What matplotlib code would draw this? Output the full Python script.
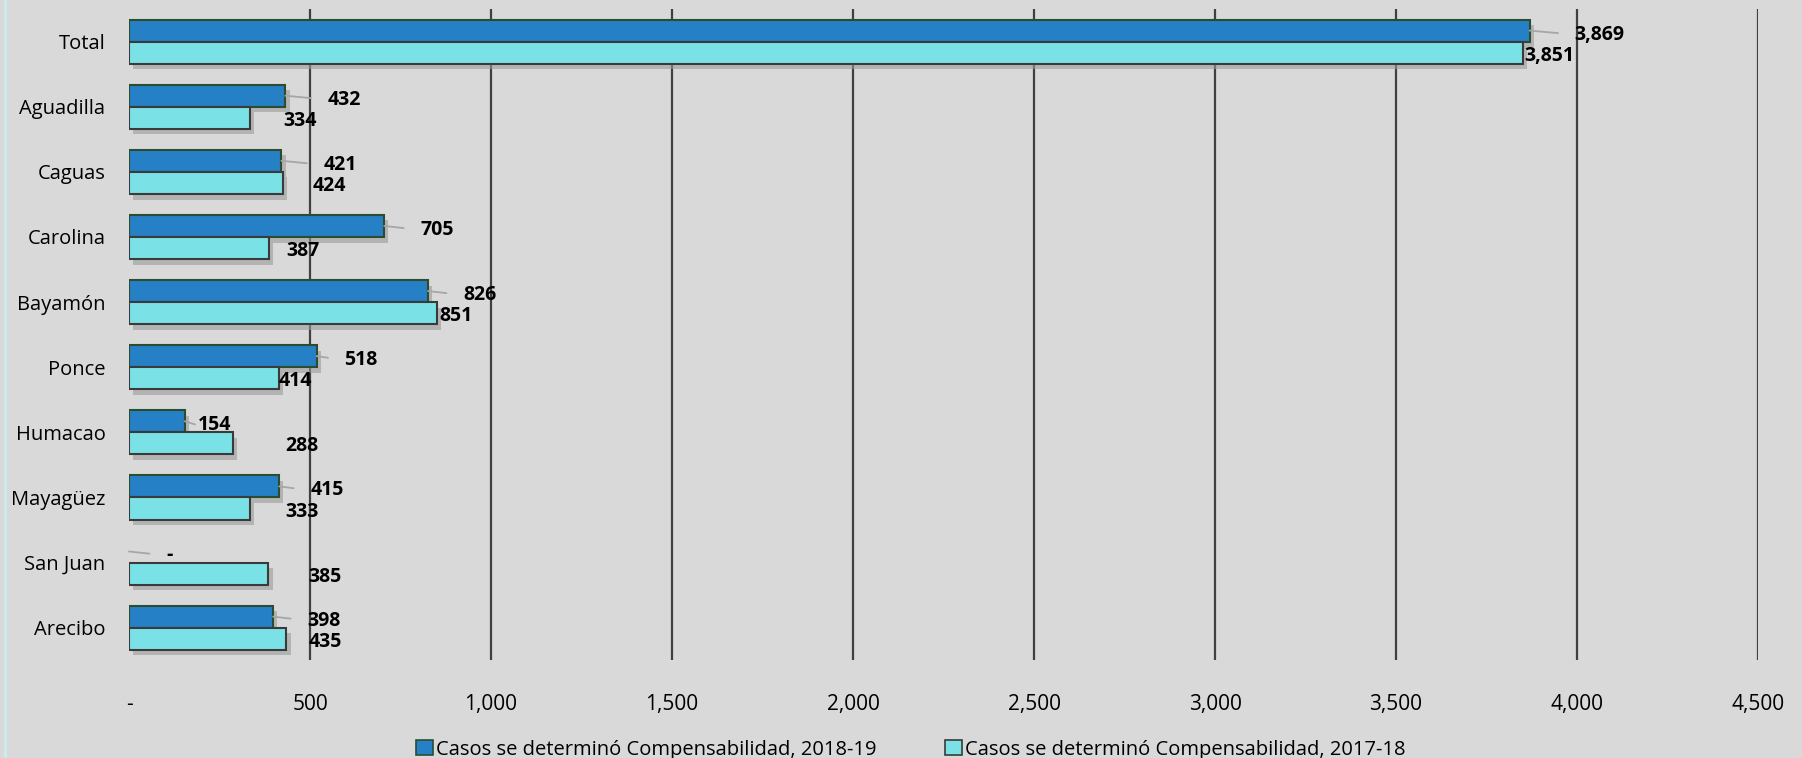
import matplotlib
matplotlib.use('Agg')
import matplotlib.pyplot as plt
import matplotlib.patheffects as pe
from matplotlib.lines import Line2D
from matplotlib.patches import Patch
import numpy as np

plt.rcParams['font.family'] = ['Open Sans', 'DejaVu Sans']

regions = ['Total', 'Aguadilla', 'Caguas', 'Carolina', 'Bayamón', 'Ponce',
           'Humacao', 'Mayagüez', 'San Juan', 'Arecibo']
casos_2018_19 = [3869, 432, 421, 705, 826, 518, 154, 415, 0, 398]
casos_2017_18 = [3851, 334, 424, 387, 851, 414, 288, 333, 385, 435]
label_2018_19 = ['3,869', '432', '421', '705', '826', '518', '154', '415', '-', '398']
label_2017_18 = ['3,851', '334', '424', '387', '851', '414', '288', '333', '385', '435']
series_names = ['Casos se determinó Compensabilidad, 2018-19',
                'Casos se determinó Compensabilidad, 2017-18']
xticks = [0, 500, 1000, 1500, 2000, 2500, 3000, 3500, 4000, 4500]
xtick_labels = ['-', '500', '1,000', '1,500', '2,000', '2,500', '3,000',
                '3,500', '4,000', '4,500']

# label gaps (pixels) after the bar end, as placed in the original
gap_dark = [45, 42, 42, 36, 35, 28, 13, 31, 37, 34]
gap_light = [1, 33, 30, 17, 2, 0, 52, 36, 40, 22]

dark = '#2580c6'
light = '#7ae2e6'
bg = '#d9d9d9'

fig = plt.figure(figsize=(18.02, 7.58), dpi=100, facecolor=bg)
ax = fig.add_axes([0.0716, 0.129, 0.9040, 0.859])
ax.set_facecolor(bg)

y = np.arange(len(regions))
h = 0.34
shadow = [pe.SimplePatchShadow(offset=(3, -4), shadow_rgbFace='#9a9a9a', alpha=0.6), pe.Normal()]

b1 = ax.barh(y - h / 2, casos_2018_19, height=h, color=dark, edgecolor='#2b4d2e',
             linewidth=1.5, zorder=3)
b2 = ax.barh(y + h / 2, casos_2017_18, height=h, color=light, edgecolor='#3a3a3a',
             linewidth=1.5, zorder=3)
for bar in list(b1) + list(b2):
    if bar.get_width() > 0:
        bar.set_path_effects(shadow)
    else:
        bar.set_linewidth(0)

for i in range(len(regions)):
    ax.annotate(label_2018_19[i], xy=(casos_2018_19[i], y[i] - h / 2),
                xytext=(gap_dark[i], -4), textcoords='offset pixels',
                ha='left', va='center', fontsize=14, fontweight='bold', zorder=4,
                arrowprops=dict(arrowstyle='-', color='#a6a6a6', lw=1.3,
                                relpos=(0, 0.5), shrinkA=10, shrinkB=0))
    ax.annotate(label_2017_18[i], xy=(casos_2017_18[i], y[i] + h / 2),
                xytext=(gap_light[i], -3), textcoords='offset pixels',
                ha='left', va='center', fontsize=14, fontweight='bold', zorder=4)

ax.set_xlim(0, 4500)
ax.set_ylim(len(regions) - 0.5, -0.5)
ax.set_xticks(xticks)
ax.set_xticklabels(xtick_labels, fontsize=15)
ax.set_yticks(y)
ax.set_yticklabels(regions, fontsize=14.5)
ax.tick_params(axis='both', length=0)
ax.tick_params(axis='x', pad=24)
ax.tick_params(axis='y', pad=17)
for t in xticks[1:]:
    ax.axvline(t, color='#404040', lw=1.6, zorder=1)
for s in ax.spines.values():
    s.set_visible(False)

fig.add_artist(Line2D([0.003, 0.003], [0, 1], color='#c9eeee', lw=2))

handles = [Patch(facecolor=dark, edgecolor='#2b4d2e', lw=1.2),
           Patch(facecolor=light, edgecolor='#3a3a3a', lw=1.2)]
fig.legend(handles, series_names, loc='lower center', bbox_to_anchor=(0.5053, -0.026),
           ncol=2, frameon=False, fontsize=14.5, handlelength=0.85, handleheight=0.8,
           handletextpad=0.15, columnspacing=3.4)

fig.savefig('out.png', dpi=100, facecolor=bg)
